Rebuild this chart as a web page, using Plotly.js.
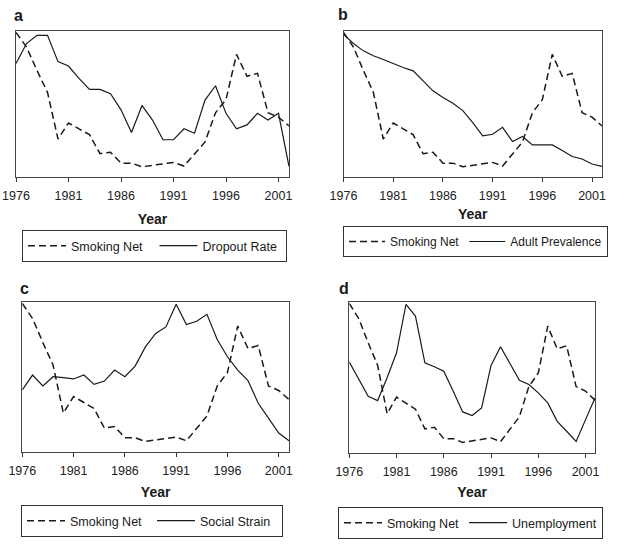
<!DOCTYPE html>
<html>
<head>
<meta charset="utf-8">
<script src="https://cdn.plot.ly/plotly-3.0.1.min.js"></script>
<style>
  html, body { margin: 0; padding: 0; background: #ffffff; }
  #chart { width: 622px; height: 544px; }
</style>
</head>
<body>
<div id="chart"></div>
<script>
// ---- Data (relative index values) ----
const years = [1976,1977,1978,1979,1980,1981,1982,1983,1984,1985,1986,1987,1988,1989,1990,1991,1992,1993,1994,1995,1996,1997,1998,1999,2000,2001,2002];

const smokingNet = [99,89,73,58,26,37,33,29,16,17,9.5,9.5,7,8,9,10,7.5,16,24,44,53,84,69,71,44,41,35];

const dropoutRate = [77.7,91.4,97,97,79,76,67.5,60,60,57,46,30.5,49,39,25.5,25.5,33,30,52.7,62.5,43.6,33,35.7,43.6,39,43.6,7.3];

const adultPrevalence = [97.7,91.4,86.4,83,80.5,77.7,75,72.7,66,59,54.5,50.5,45.5,37.3,28.2,29.3,34,24.3,27.7,22,22,22,18.2,14,12.3,8.9,7.3];

const socialStrain = [41.4,51.3,44,50.2,49.6,48.7,51.3,45.1,47.3,54.6,50.2,57.3,70.1,79,83.4,98.5,85,87.2,91.8,75,63.5,54.6,47.6,32.5,22.6,12.6,7.5];

const unemployment = [60.2,48.7,37.6,34.7,49.8,66.4,98.5,90.7,59.7,57.1,54.2,40.9,27.2,24.8,29.9,58,70.4,59.3,48.2,45.4,39.8,33.2,21,14.4,7.7,22.1,36.5];

const tickYears = [1976,1981,1986,1991,1996,2001];
const tickLabels = ["1976","1981","1986","1991","1996","2001"];
const panelLetters = ["a","b","c","d"];
const seriesNames = ["Dropout Rate","Adult Prevalence","Social Strain","Unemployment"];
const seriesValues = [dropoutRate, adultPrevalence, socialStrain, unemployment];
const smokingName = "Smoking Net";

// ---- Layout helpers ----
const W = 622, H = 544;
const px2x = (a, b) => [a / W, b / W];
const px2y = (top, bottom) => [1 - bottom / H, 1 - top / H];

const FONT = "Liberation Sans, Arial, Helvetica, sans-serif";
const INK = "#1a1a1a";

const panels = [
  { xd: px2x(16, 289),    yd: px2y(31, 177),  letter: [18, 15],   legend: [22, 230],  standoff: 12, entry: 78.5, lfont: 12.5, iw: 38 },
  { xd: px2x(343.5, 602), yd: px2y(31, 177),  letter: [343, 14],  legend: [343, 226], standoff: 7,  entry: 0,    lfont: 12,   iw: 36 },
  { xd: px2x(22.3, 289),  yd: px2y(302, 452), letter: [24, 288],  legend: [21, 505],  standoff: 10, entry: 77,   lfont: 12.5, iw: 38 },
  { xd: px2x(349.3, 595), yd: px2y(302, 453), letter: [344, 288], legend: [338, 507], standoff: 9,  entry: 0,    lfont: 12.5, iw: 38 }
];

const traces = [];
const layout = {
  width: W, height: H,
  margin: { l: 0, r: 0, t: 0, b: 0 },
  paper_bgcolor: "#ffffff",
  plot_bgcolor: "#ffffff",
  font: { family: FONT, color: INK },
  showlegend: true,
  annotations: []
};

panels.forEach((p, i) => {
  const n = i + 1;
  const xa = n === 1 ? "x" : "x" + n;
  const ya = n === 1 ? "y" : "y" + n;
  const lg = n === 1 ? "legend" : "legend" + n;

  traces.push({
    x: years, y: smokingNet, xaxis: xa, yaxis: ya, legend: lg,
    type: "scatter", mode: "lines", name: smokingName,
    line: { color: INK, width: 1.5, dash: "7px,4px" },
    hoverinfo: "skip"
  });
  traces.push({
    x: years, y: seriesValues[i], xaxis: xa, yaxis: ya, legend: lg,
    type: "scatter", mode: "lines", name: seriesNames[i],
    line: { color: INK, width: 1.2 },
    hoverinfo: "skip"
  });

  layout["xaxis" + (n === 1 ? "" : n)] = {
    domain: p.xd, anchor: ya,
    range: [1976, 2002],
    tickmode: "array", tickvals: tickYears, ticktext: tickLabels,
    ticks: "outside", ticklen: 4, tickwidth: 1, tickcolor: "#333",
    ticklabelstandoff: 3,
    showline: true, mirror: true, linecolor: "#444", linewidth: 1,
    showgrid: false, zeroline: false,
    tickfont: { family: FONT, size: 12.5, color: "#222" },
    title: { text: "Year", font: { family: FONT, size: 14, color: INK, weight: "bold" }, standoff: p.standoff }
  };
  layout["yaxis" + (n === 1 ? "" : n)] = {
    domain: p.yd, anchor: xa,
    range: [0, 100],
    showticklabels: false, ticks: "",
    showline: true, mirror: true, linecolor: "#444", linewidth: 1,
    showgrid: false, zeroline: false
  };

  const leg = {
    orientation: "h",
    x: p.legend[0] / W, y: 1 - p.legend[1] / H,
    xanchor: "left", yanchor: "top",
    bordercolor: "#333", borderwidth: 1, bgcolor: "#ffffff",
    itemwidth: p.iw,
    font: { family: FONT, size: p.lfont, color: INK }
  };
  if (p.entry) { leg.entrywidth = p.entry; leg.entrywidthmode = "pixels"; }
  layout[lg] = leg;

  layout.annotations.push({
    xref: "paper", yref: "paper",
    x: p.letter[0] / W, y: 1 - p.letter[1] / H,
    xanchor: "center", yanchor: "middle",
    text: "<b>" + panelLetters[i] + "</b>",
    showarrow: false,
    font: { family: FONT, size: 16, color: INK }
  });
});

Plotly.newPlot("chart", traces, layout, { displayModeBar: false, staticPlot: true });
</script>
</body>
</html>
